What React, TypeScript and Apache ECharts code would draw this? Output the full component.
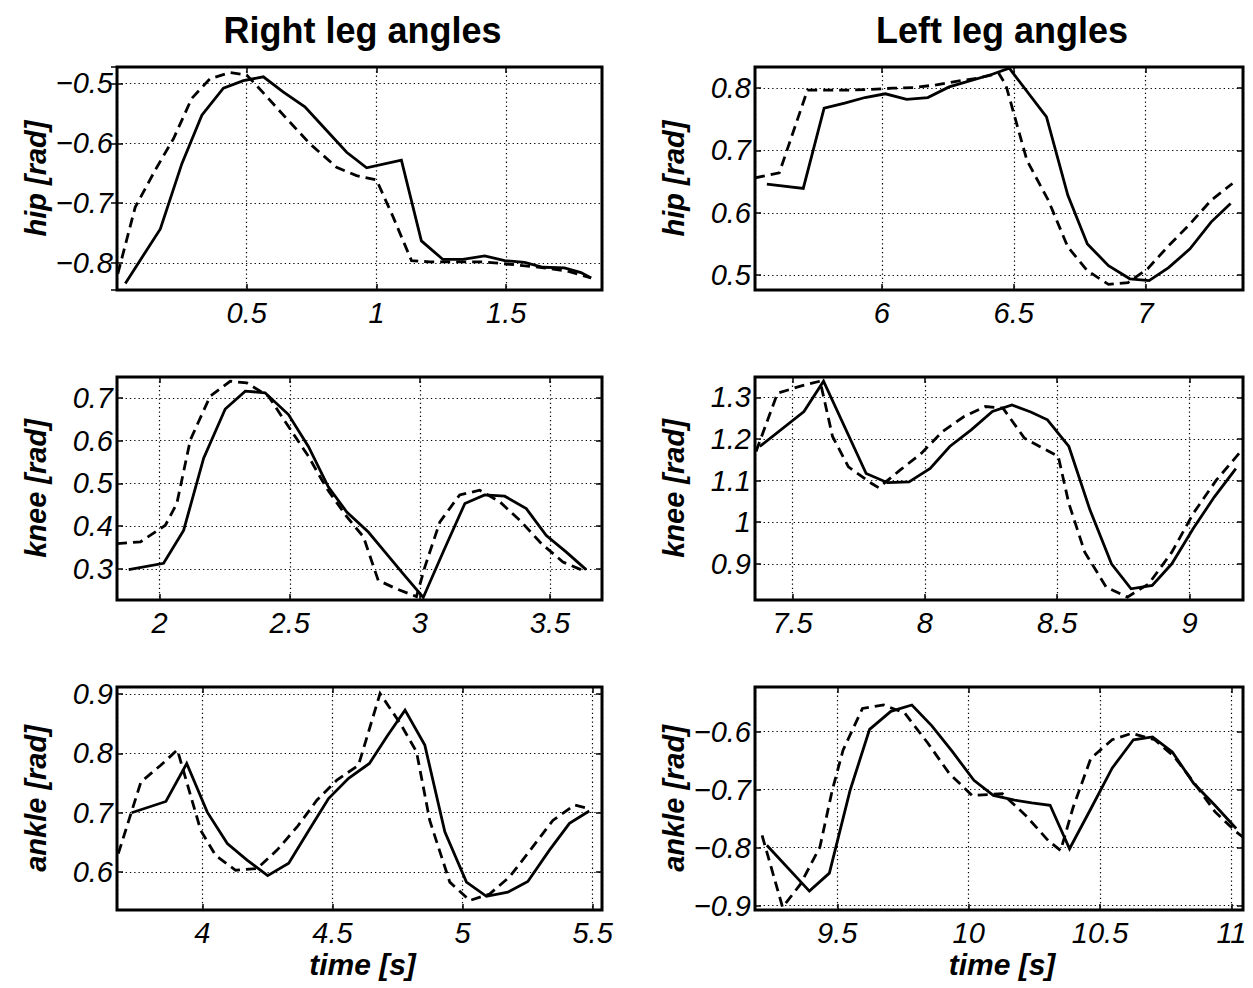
import React, { useEffect, useRef } from "react";
import * as echarts from "echarts";

// ---------- data ----------
const titles = ["Right leg angles", "Left leg angles"];
const yNames = ["hip [rad]", "knee [rad]", "ankle [rad]"];
const xName = "time [s]";

// Right hip
const rHipTSolid = [0.032, 0.167, 0.25, 0.327, 0.41, 0.487, 0.564, 0.64, 0.724, 0.8, 0.885, 0.962, 1.096, 1.173, 1.256, 1.333, 1.417, 1.494, 1.571, 1.641, 1.724, 1.788, 1.827];
const rHipYSolid = [-0.834, -0.743, -0.634, -0.553, -0.508, -0.4955, -0.489, -0.514, -0.539, -0.575, -0.615, -0.641, -0.628, -0.763, -0.794, -0.794, -0.788, -0.796, -0.799, -0.807, -0.808, -0.816, -0.825];
const rHipTDash = [0.003, 0.07, 0.147, 0.218, 0.288, 0.359, 0.436, 0.5, 0.577, 0.654, 0.744, 0.846, 0.923, 1.0, 1.064, 1.135, 1.205, 1.308, 1.41, 1.513, 1.628, 1.731, 1.827];
const rHipYDash = [-0.818, -0.707, -0.645, -0.592, -0.525, -0.492, -0.482, -0.486, -0.522, -0.559, -0.601, -0.64, -0.654, -0.661, -0.723, -0.796, -0.798, -0.798, -0.798, -0.802, -0.807, -0.813, -0.825];

// Left hip
const lHipTSolid = [5.564, 5.702, 5.781, 5.859, 5.936, 6.013, 6.094, 6.174, 6.255, 6.336, 6.416, 6.483, 6.624, 6.705, 6.779, 6.859, 6.94, 7.013, 7.087, 7.168, 7.248, 7.322];
const lHipYSolid = [0.646, 0.639, 0.768, 0.776, 0.785, 0.791, 0.782, 0.785, 0.802, 0.812, 0.822, 0.832, 0.754, 0.628, 0.55, 0.515, 0.494, 0.491, 0.512, 0.542, 0.585, 0.615];
const lHipTDash = [5.519, 5.611, 5.718, 5.799, 5.879, 5.96, 6.04, 6.121, 6.201, 6.282, 6.362, 6.443, 6.47, 6.55, 6.631, 6.705, 6.779, 6.859, 6.933, 7.007, 7.087, 7.168, 7.248, 7.329];
const lHipYDash = [0.656, 0.664, 0.797, 0.797, 0.797, 0.798, 0.8, 0.801, 0.805, 0.811, 0.816, 0.824, 0.805, 0.684, 0.62, 0.545, 0.507, 0.485, 0.488, 0.51, 0.547, 0.582, 0.62, 0.647];

// Right knee
const rKneeTSolid = [1.881, 2.015, 2.092, 2.169, 2.252, 2.329, 2.405, 2.495, 2.572, 2.648, 2.719, 2.802, 2.872, 2.936, 3.013, 3.092, 3.173, 3.249, 3.326, 3.409, 3.486, 3.563, 3.639];
const rKneeYSolid = [0.298, 0.313, 0.39, 0.559, 0.674, 0.716, 0.712, 0.661, 0.586, 0.492, 0.433, 0.386, 0.335, 0.288, 0.233, 0.343, 0.453, 0.473, 0.47, 0.441, 0.378, 0.339, 0.298];
const rKneeTDash = [1.836, 1.926, 2.022, 2.066, 2.118, 2.194, 2.271, 2.335, 2.418, 2.495, 2.572, 2.642, 2.719, 2.783, 2.84, 2.91, 2.987, 3.019, 3.077, 3.153, 3.23, 3.307, 3.39, 3.467, 3.55, 3.627];
const rKneeYDash = [0.359, 0.363, 0.402, 0.453, 0.602, 0.704, 0.739, 0.735, 0.704, 0.633, 0.563, 0.488, 0.422, 0.375, 0.273, 0.253, 0.235, 0.304, 0.41, 0.473, 0.484, 0.457, 0.41, 0.359, 0.316, 0.296];

// Left knee
const lKneeTSolid = [7.376, 7.543, 7.617, 7.778, 7.859, 7.94, 8.02, 8.094, 8.175, 8.255, 8.329, 8.4, 8.463, 8.544, 8.624, 8.705, 8.779, 8.859, 8.933, 9.014, 9.094, 9.175];
const lKneeYSolid = [1.182, 1.266, 1.339, 1.117, 1.095, 1.097, 1.129, 1.182, 1.222, 1.266, 1.282, 1.265, 1.246, 1.182, 1.029, 0.9, 0.84, 0.848, 0.9, 0.985, 1.061, 1.129];
const lKneeTDash = [7.362, 7.443, 7.53, 7.604, 7.651, 7.711, 7.799, 7.825, 7.906, 7.987, 8.067, 8.148, 8.228, 8.295, 8.376, 8.457, 8.504, 8.544, 8.604, 8.685, 8.765, 8.846, 8.933, 9.014, 9.101, 9.188];
const lKneeYDash = [1.17, 1.31, 1.327, 1.339, 1.206, 1.133, 1.093, 1.083, 1.125, 1.166, 1.218, 1.254, 1.278, 1.274, 1.202, 1.174, 1.158, 1.045, 0.928, 0.844, 0.82, 0.852, 0.928, 1.021, 1.101, 1.166];

// Right ankle
const rAnkTSolid = [3.728, 3.86, 3.94, 4.019, 4.096, 4.172, 4.251, 4.332, 4.409, 4.485, 4.562, 4.642, 4.71, 4.779, 4.855, 4.932, 5.015, 5.092, 5.174, 5.251, 5.334, 5.411, 5.487];
const rAnkYSolid = [0.7, 0.719, 0.783, 0.701, 0.648, 0.62, 0.594, 0.615, 0.67, 0.724, 0.758, 0.783, 0.829, 0.873, 0.814, 0.668, 0.583, 0.559, 0.566, 0.584, 0.637, 0.682, 0.703];
const rAnkTDash = [3.677, 3.764, 3.84, 3.904, 3.994, 4.051, 4.128, 4.211, 4.287, 4.364, 4.44, 4.517, 4.6, 4.683, 4.76, 4.823, 4.874, 4.951, 5.028, 5.104, 5.181, 5.264, 5.347, 5.43, 5.487];
const rAnkYDash = [0.631, 0.752, 0.78, 0.806, 0.67, 0.628, 0.603, 0.606, 0.637, 0.676, 0.721, 0.755, 0.78, 0.901, 0.851, 0.803, 0.687, 0.583, 0.552, 0.563, 0.592, 0.639, 0.687, 0.713, 0.707];

// Left ankle
const lAnkTSolid = [9.232, 9.394, 9.47, 9.549, 9.623, 9.704, 9.784, 9.86, 9.939, 10.02, 10.094, 10.175, 10.24, 10.31, 10.384, 10.465, 10.546, 10.627, 10.7, 10.775, 10.856, 10.937, 11.018];
const lAnkYSolid = [-0.796, -0.875, -0.844, -0.701, -0.596, -0.565, -0.554, -0.59, -0.635, -0.684, -0.71, -0.718, -0.723, -0.727, -0.802, -0.733, -0.663, -0.614, -0.609, -0.635, -0.689, -0.727, -0.767];
const lAnkTDash = [9.214, 9.292, 9.36, 9.434, 9.481, 9.522, 9.596, 9.677, 9.757, 9.845, 9.926, 10.013, 10.128, 10.216, 10.303, 10.35, 10.398, 10.465, 10.546, 10.62, 10.708, 10.782, 10.856, 10.937, 11.018, 11.044];
const lAnkYDash = [-0.779, -0.903, -0.863, -0.799, -0.701, -0.632, -0.56, -0.554, -0.568, -0.62, -0.672, -0.71, -0.707, -0.744, -0.788, -0.805, -0.73, -0.646, -0.614, -0.603, -0.614, -0.643, -0.687, -0.738, -0.773, -0.782];

// axis extents [xmin, xmax, ymin, ymax]
const rHipRange = [0.0, 1.869, -0.845, -0.4726];
const lHipRange = [5.519, 7.369, 0.476, 0.834];
const rKneeRange = [1.836, 3.7, 0.227, 0.749];
const lKneeRange = [7.358, 9.202, 0.813, 1.349];
const rAnkRange = [3.672, 5.536, 0.536, 0.912];
const lAnkRange = [9.187, 11.044, -0.9076, -0.523];

// ---------- layout ----------
const FONT = '"Liberation Sans", Arial, Helvetica, sans-serif';
const colLeft = [117, 755];
const colWidth = [485, 488];
const rowTop = [67, 377, 687];
const rowHeight = 223;

const panels = [
  { col: 0, row: 0, range: rHipRange, ts: rHipTSolid, ys: rHipYSolid, td: rHipTDash, yd: rHipYDash },
  { col: 1, row: 0, range: lHipRange, ts: lHipTSolid, ys: lHipYSolid, td: lHipTDash, yd: lHipYDash },
  { col: 0, row: 1, range: rKneeRange, ts: rKneeTSolid, ys: rKneeYSolid, td: rKneeTDash, yd: rKneeYDash },
  { col: 1, row: 1, range: lKneeRange, ts: lKneeTSolid, ys: lKneeYSolid, td: lKneeTDash, yd: lKneeYDash },
  { col: 0, row: 2, range: rAnkRange, ts: rAnkTSolid, ys: rAnkYSolid, td: rAnkTDash, yd: rAnkYDash },
  { col: 1, row: 2, range: lAnkRange, ts: lAnkTSolid, ys: lAnkYSolid, td: lAnkTDash, yd: lAnkYDash },
];

const fmt = (v: number) => {
  const r = Math.round(v * 1000) / 1000;
  return String(r).replace("-", "\u2212");
};

const gridLine = { show: true, lineStyle: { color: "#000", width: 1.2, type: [1.3, 3] as any } };
const tickStyle = { show: true, inside: true, length: 6, lineStyle: { color: "#000", width: 1.5 } };
const labelFont = { color: "#000", fontFamily: FONT, fontStyle: "italic", fontSize: 29 };

function buildOption() {
  const grid: any[] = [];
  const xAxis: any[] = [];
  const yAxis: any[] = [];
  const series: any[] = [];
  panels.forEach((p) => {
    grid.push({
      left: colLeft[p.col],
      top: rowTop[p.row],
      width: colWidth[p.col],
      height: rowHeight,
      show: true,
      borderColor: "#000",
      borderWidth: 3,
      backgroundColor: "#fff",
    });
  });
  // bottom / left axes with labels
  panels.forEach((p, i) => {
    xAxis.push({
      type: "value",
      gridIndex: i,
      min: p.range[0],
      max: p.range[1],
      splitNumber: 4,
      position: "bottom",
      axisLine: { show: false },
      axisTick: tickStyle,
      splitLine: gridLine,
      axisLabel: {
        show: true,
        showMinLabel: false,
        showMaxLabel: false,
        margin: 8,
        ...labelFont,
        formatter: fmt,
      },
    });
    yAxis.push({
      type: "value",
      gridIndex: i,
      min: p.range[2],
      max: p.range[3],
      splitNumber: 5,
      position: "left",
      axisLine: { show: false },
      axisTick: tickStyle,
      splitLine: gridLine,
      axisLabel: {
        show: true,
        showMinLabel: false,
        showMaxLabel: false,
        margin: 4,
        ...labelFont,
        formatter: fmt,
      },
    });
  });
  // mirror axes (top / right) for inward ticks
  panels.forEach((p, i) => {
    xAxis.push({
      type: "value",
      gridIndex: i,
      min: p.range[0],
      max: p.range[1],
      splitNumber: 4,
      position: "top",
      axisLine: { show: false },
      axisTick: tickStyle,
      splitLine: { show: false },
      axisLabel: { show: false },
    });
    yAxis.push({
      type: "value",
      gridIndex: i,
      min: p.range[2],
      max: p.range[3],
      splitNumber: 5,
      position: "right",
      axisLine: { show: false },
      axisTick: tickStyle,
      splitLine: { show: false },
      axisLabel: { show: false },
    });
  });
  panels.forEach((p, i) => {
    series.push({
      type: "line",
      xAxisIndex: i,
      yAxisIndex: i,
      data: p.ts.map((t, k) => [t, p.ys[k]]),
      showSymbol: false,
      symbol: "none",
      clip: true,
      lineStyle: { color: "#000", width: 2.8, type: "solid", join: "miter" },
      z: 3,
    });
    series.push({
      type: "line",
      xAxisIndex: i,
      yAxisIndex: i,
      data: p.td.map((t, k) => [t, p.yd[k]]),
      showSymbol: false,
      symbol: "none",
      clip: true,
      lineStyle: { color: "#000", width: 2.8, type: [10, 6], join: "miter" },
      z: 3,
    });
  });

  const graphic: any[] = [];
  [0, 1].forEach((c) => {
    graphic.push({
      type: "text",
      x: colLeft[c] + colWidth[c] / 2 + 3,
      y: 30,
      style: {
        text: titles[c],
        font: `bold 36px ${FONT}`,
        fill: "#000",
        align: "center",
        verticalAlign: "middle",
      },
    });
    graphic.push({
      type: "text",
      x: colLeft[c] + colWidth[c] / 2 + 3,
      y: 964,
      style: {
        text: xName,
        font: `italic bold 30px ${FONT}`,
        fill: "#000",
        align: "center",
        verticalAlign: "middle",
      },
    });
    [0, 1, 2].forEach((r) => {
      graphic.push({
        type: "text",
        x: colLeft[c] - 81,
        y: rowTop[r] + rowHeight / 2,
        rotation: Math.PI / 2,
        style: {
          text: yNames[r],
          font: `italic bold 29px ${FONT}`,
          fill: "#000",
          align: "center",
          verticalAlign: "middle",
        },
      });
    });
  });

  return {
    animation: false,
    backgroundColor: "#fff",
    grid,
    xAxis,
    yAxis,
    series,
    graphic,
  };
}

export default function App() {
  const ref = useRef<HTMLDivElement>(null);
  useEffect(() => {
    document.body.style.margin = "0";
    if (!ref.current) return;
    const chart = echarts.init(ref.current, undefined, { renderer: "svg" });
    chart.setOption(buildOption() as any);
    return () => chart.dispose();
  }, []);
  return <div ref={ref} style={{ width: 1253, height: 988 }} />;
}
